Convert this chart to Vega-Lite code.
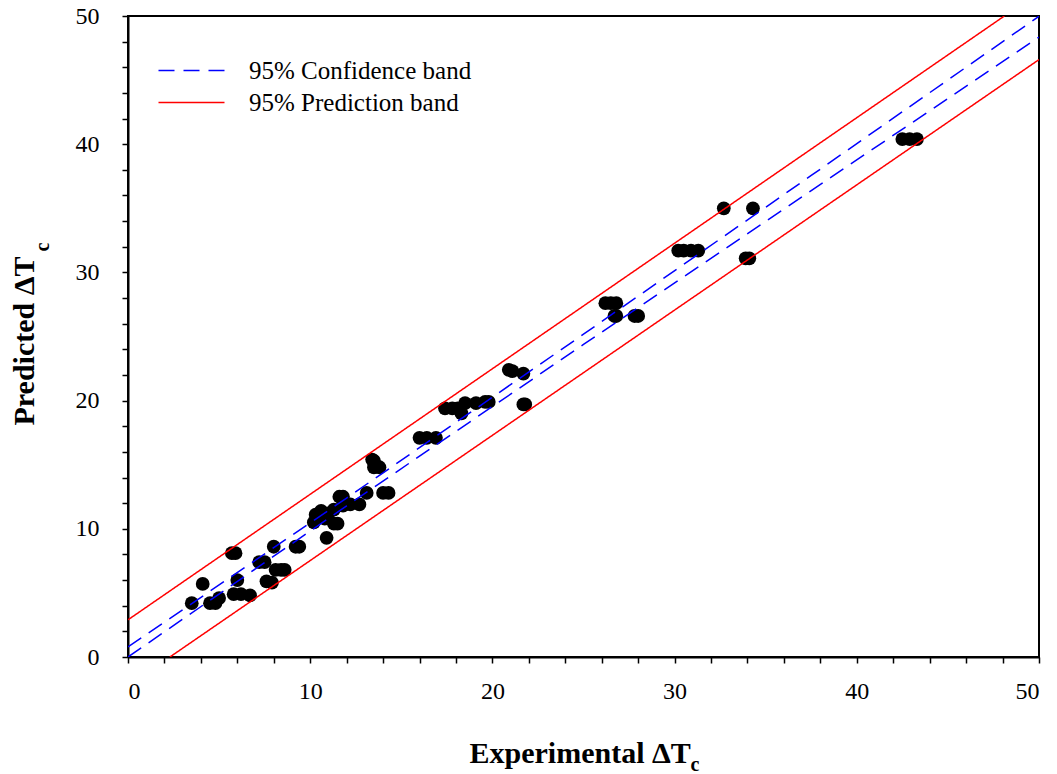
{
  "$schema": "https://vega.github.io/schema/vega-lite/v6.json",
  "width": 911,
  "height": 641,
  "autosize": {"type": "none"},
  "padding": {"left": 128, "top": 16, "right": 18, "bottom": 117},
  "background": "white",
  "config": {
    "view": {"stroke": "black", "strokeWidth": 2},
    "axis": {
      "labelFont": "Liberation Serif",
      "labelFontSize": 24,
      "labelColor": "black",
      "titleFont": "Liberation Serif",
      "titleFontWeight": "bold",
      "titleColor": "black",
      "domainColor": "black",
      "domainWidth": 2,
      "tickColor": "black",
      "tickWidth": 1.5,
      "tickSize": 6,
      "grid": false
    },
    "legend": {
      "labelFont": "Liberation Serif",
      "labelFontSize": 25,
      "labelColor": "black",
      "labelLimit": 0
    }
  },
  "datasets": {
    "pts": [
      {"exp": 3.5, "pred": 4.2}, {"exp": 4.1, "pred": 5.7}, {"exp": 4.5, "pred": 4.2}, {"exp": 4.8, "pred": 4.2},
      {"exp": 5.0, "pred": 4.6}, {"exp": 5.7, "pred": 8.1}, {"exp": 5.9, "pred": 8.1}, {"exp": 5.8, "pred": 4.9},
      {"exp": 6.0, "pred": 6.0}, {"exp": 6.2, "pred": 4.9}, {"exp": 6.7, "pred": 4.8}, {"exp": 7.2, "pred": 7.4},
      {"exp": 7.5, "pred": 7.4}, {"exp": 7.6, "pred": 5.9}, {"exp": 7.9, "pred": 5.8}, {"exp": 8.0, "pred": 8.6},
      {"exp": 8.1, "pred": 6.8}, {"exp": 8.4, "pred": 6.8}, {"exp": 8.6, "pred": 6.8}, {"exp": 9.2, "pred": 8.6},
      {"exp": 9.4, "pred": 8.6},
      {"exp": 10.2, "pred": 10.5}, {"exp": 10.3, "pred": 11.1}, {"exp": 10.6, "pred": 11.4}, {"exp": 10.8, "pred": 10.8},
      {"exp": 10.9, "pred": 9.3}, {"exp": 11.0, "pred": 11.2}, {"exp": 11.3, "pred": 10.4}, {"exp": 11.5, "pred": 10.4},
      {"exp": 11.3, "pred": 11.5}, {"exp": 11.6, "pred": 12.5}, {"exp": 11.8, "pred": 12.5}, {"exp": 11.8, "pred": 11.8},
      {"exp": 12.2, "pred": 11.9}, {"exp": 12.7, "pred": 11.9}, {"exp": 13.1, "pred": 12.8}, {"exp": 13.4, "pred": 15.4},
      {"exp": 13.5, "pred": 15.3}, {"exp": 13.5, "pred": 14.8}, {"exp": 13.8, "pred": 14.8}, {"exp": 14.0, "pred": 12.8},
      {"exp": 14.3, "pred": 12.8},
      {"exp": 16.0, "pred": 17.1}, {"exp": 16.4, "pred": 17.1}, {"exp": 16.9, "pred": 17.1},
      {"exp": 17.4, "pred": 19.4}, {"exp": 17.8, "pred": 19.4}, {"exp": 18.1, "pred": 19.4}, {"exp": 18.3, "pred": 19.0},
      {"exp": 18.5, "pred": 19.8}, {"exp": 19.1, "pred": 19.8}, {"exp": 19.6, "pred": 19.9}, {"exp": 19.8, "pred": 19.9},
      {"exp": 20.9, "pred": 22.4}, {"exp": 21.1, "pred": 22.3}, {"exp": 21.7, "pred": 22.1}, {"exp": 21.7, "pred": 19.7},
      {"exp": 21.8, "pred": 19.7},
      {"exp": 26.2, "pred": 27.6}, {"exp": 26.5, "pred": 27.6}, {"exp": 26.8, "pred": 27.6}, {"exp": 26.7, "pred": 26.6},
      {"exp": 26.8, "pred": 26.6}, {"exp": 27.8, "pred": 26.6}, {"exp": 28.0, "pred": 26.6},
      {"exp": 30.2, "pred": 31.7}, {"exp": 30.5, "pred": 31.7}, {"exp": 30.9, "pred": 31.7}, {"exp": 31.3, "pred": 31.7},
      {"exp": 32.7, "pred": 35.0}, {"exp": 34.3, "pred": 35.0}, {"exp": 33.9, "pred": 31.1}, {"exp": 34.1, "pred": 31.1},
      {"exp": 42.5, "pred": 40.4}, {"exp": 42.9, "pred": 40.4}, {"exp": 43.3, "pred": 40.4}
    ],
    "bands": [
      {"band": "95% Confidence band", "side": "upper", "x": 0, "y": 0.78},
      {"band": "95% Confidence band", "side": "upper", "x": 12, "y": 12.4},
      {"band": "95% Confidence band", "side": "upper", "x": 25, "y": 25.18},
      {"band": "95% Confidence band", "side": "upper", "x": 37.5, "y": 37.56},
      {"band": "95% Confidence band", "side": "upper", "x": 50, "y": 49.98},
      {"band": "95% Confidence band", "side": "lower", "x": 0, "y": 0.0},
      {"band": "95% Confidence band", "side": "lower", "x": 12, "y": 11.79},
      {"band": "95% Confidence band", "side": "lower", "x": 25, "y": 24.38},
      {"band": "95% Confidence band", "side": "lower", "x": 37.5, "y": 36.38},
      {"band": "95% Confidence band", "side": "lower", "x": 50, "y": 48.35},
      {"band": "95% Prediction band", "side": "upper", "x": 0, "y": 2.9},
      {"band": "95% Prediction band", "side": "upper", "x": 48.1, "y": 50},
      {"band": "95% Prediction band", "side": "lower", "x": 2.3, "y": 0},
      {"band": "95% Prediction band", "side": "lower", "x": 50, "y": 46.6}
    ]
  },
  "layer": [
    {
      "data": {"name": "pts"},
      "mark": {"type": "circle", "size": 190, "color": "black", "opacity": 1},
      "encoding": {
        "x": {
          "field": "exp", "type": "quantitative",
          "scale": {"domain": [0, 50], "nice": false},
          "axis": {
            "values": [0,2,4,6,8,10,12,14,16,18,20,22,24,26,28,30,32,34,36,38,40,42,44,46,48,50],
            "labelExpr": "datum.value % 10 === 0 ? datum.label : ''",
            "labelFont": "Liberation Serif",
            "labelFontSize": 24,
            "labelFontWeight": "normal",
            "labelPadding": 16,
            "title": "Experimental ΔT",
            "titleFontSize": 30,
            "titleX": 341, "titleY": 105,
            "titleAlign": "left", "titleBaseline": "alphabetic",
            "orient": "bottom"
          }
        },
        "y": {
          "field": "pred", "type": "quantitative",
          "scale": {"domain": [0, 50], "nice": false},
          "axis": {
            "values": [0,2,4,6,8,10,12,14,16,18,20,22,24,26,28,30,32,34,36,38,40,42,44,46,48,50],
            "labelExpr": "datum.value % 10 === 0 ? datum.label : ''",
            "labelFont": "Liberation Serif",
            "labelFontSize": 24,
            "labelFontWeight": "normal",
            "labelPadding": 23,
            "title": "Predicted ΔT",
            "titleFontSize": 30,
            "titleAngle": -90,
            "titleX": -95, "titleY": 409,
            "titleAlign": "left", "titleBaseline": "alphabetic",
            "orient": "left"
          }
        }
      }
    },
    {
      "data": {"name": "bands"},
      "mark": {"type": "line", "strokeWidth": 1.5, "clip": true},
      "encoding": {
        "x": {
          "field": "x", "type": "quantitative",
          "scale": {"domain": [0, 50], "nice": false},
          "axis": {
            "orient": "bottom", "domain": false, "ticks": false, "labels": false,
            "title": "c", "titleFontSize": 20,
            "titleX": 562, "titleY": 113,
            "titleAlign": "left", "titleBaseline": "alphabetic"
          }
        },
        "y": {
          "field": "y", "type": "quantitative",
          "scale": {"domain": [0, 50], "nice": false},
          "axis": {
            "orient": "left", "domain": false, "ticks": false, "labels": false,
            "title": "c", "titleFontSize": 20, "titleAngle": -90,
            "titleX": -80, "titleY": 235,
            "titleAlign": "left", "titleBaseline": "alphabetic"
          }
        },
        "detail": {"field": "side"},
        "color": {
          "field": "band", "type": "nominal",
          "scale": {"domain": ["95% Confidence band", "95% Prediction band"], "range": ["#0000ff", "#ff0000"]},
          "legend": {
            "title": null,
            "orient": "none",
            "legendX": 51,
            "legendY": 42,
            "symbolType": "M-3,0H3",
            "symbolSize": 484,
            "symbolStrokeWidth": 1.5,
            "labelOffset": 45,
            "rowPadding": 6
          }
        },
        "strokeDash": {
          "field": "band", "type": "nominal",
          "scale": {"domain": ["95% Confidence band", "95% Prediction band"], "range": [[16, 9], [1, 0]]},
          "legend": {
            "title": null,
            "orient": "none",
            "legendX": 51,
            "legendY": 42,
            "symbolType": "M-3,0H3",
            "symbolSize": 484,
            "symbolStrokeWidth": 1.5,
            "labelOffset": 45,
            "rowPadding": 6
          }
        }
      }
    }
  ],
  "resolve": {"axis": {"x": "independent", "y": "independent"}}
}
